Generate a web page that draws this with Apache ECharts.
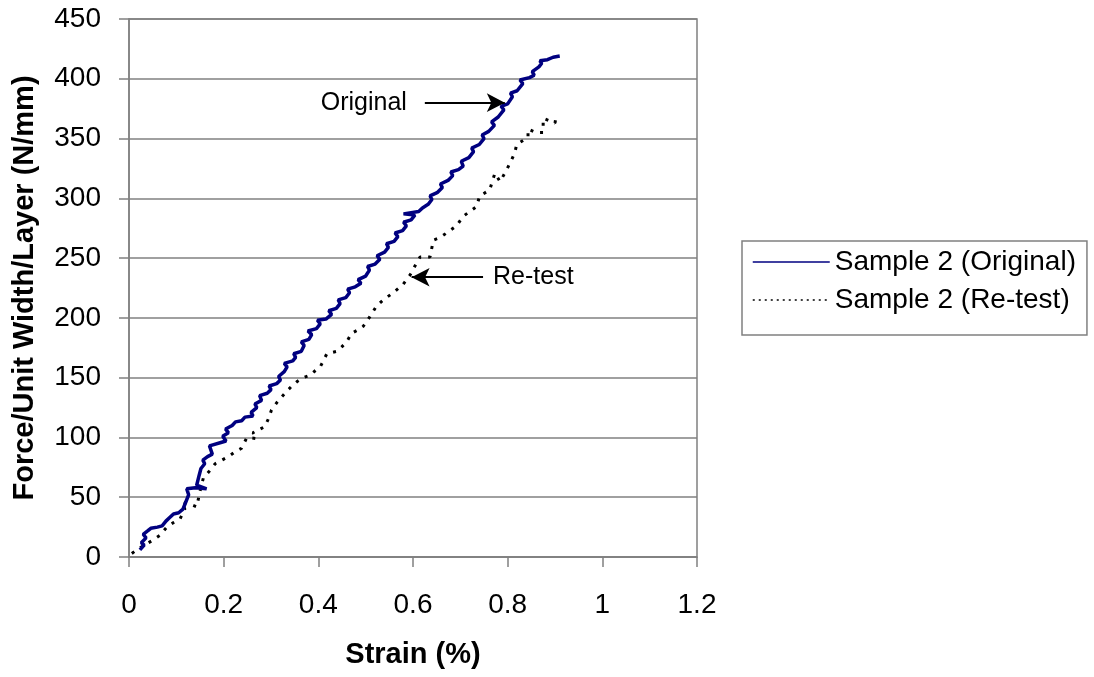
<!DOCTYPE html>
<html>
<head>
<meta charset="utf-8">
<title>Force vs Strain</title>
<script src="https://cdn.jsdelivr.net/npm/echarts@6/dist/echarts.min.js"></script>
<style>
  html, body { margin: 0; padding: 0; background: #fff; }
  #chart { width: 1094px; height: 677px; }
</style>
</head>
<body>
<div id="chart"></div>
<script>
// Axis ticks
const xTicks = [0, 0.2, 0.4, 0.6, 0.8, 1, 1.2];
const yTicks = [0, 50, 100, 150, 200, 250, 300, 350, 400, 450];

// Series names
const seriesNames = ['Sample 2 (Original)', 'Sample 2 (Re-test)'];

// Sample 2, original test: [strain %, force per unit width per layer N/mm]
const originalData = [
  [0.023,6],[0.032,10],[0.026,12],[0.036,16],[0.030,19],[0.040,22],[0.046,24],[0.060,25],
  [0.070,26],[0.078,30],[0.086,33],[0.094,36],[0.105,37],[0.114,40],[0.120,46],[0.126,52],
  [0.122,57],[0.140,58],[0.164,57],[0.143,60],[0.148,68],[0.152,74],[0.160,78],[0.156,81],
  [0.166,84],[0.176,86],[0.170,93],[0.196,96],[0.205,97],[0.198,101],[0.210,104],[0.204,107],
  [0.218,110],[0.225,113],[0.238,114],[0.245,117],[0.262,118],[0.258,121],[0.270,125],[0.266,128],
  [0.280,131],[0.276,135],[0.292,137],[0.300,140],[0.296,143],[0.312,145],[0.320,148],[0.316,151],
  [0.328,155],[0.334,159],[0.328,162],[0.346,164],[0.352,167],[0.348,170],[0.364,172],[0.370,177],
  [0.364,180],[0.380,182],[0.386,186],[0.378,189],[0.396,191],[0.404,195],[0.398,198],[0.416,199],
  [0.428,203],[0.422,206],[0.438,208],[0.446,212],[0.442,215],[0.458,217],[0.466,221],[0.462,224],
  [0.478,226],[0.490,229],[0.484,232],[0.500,235],[0.508,240],[0.504,243],[0.520,245],[0.530,249],
  [0.524,252],[0.540,255],[0.548,259],[0.544,262],[0.560,264],[0.568,268],[0.562,271],[0.578,273],
  [0.586,277],[0.580,280],[0.596,282],[0.604,286],[0.580,287],[0.612,289],[0.620,292],[0.632,295],
  [0.640,299],[0.636,302],[0.652,305],[0.662,309],[0.658,312],[0.674,315],[0.684,319],[0.680,322],
  [0.696,324],[0.706,327],[0.702,331],[0.718,334],[0.728,339],[0.724,342],[0.740,345],[0.750,350],
  [0.746,353],[0.760,356],[0.772,361],[0.766,364],[0.780,368],[0.792,374],[0.786,377],[0.800,379],
  [0.810,385],[0.806,388],[0.820,390],[0.832,396],[0.826,399],[0.846,401],[0.856,403],[0.852,406],
  [0.866,410],[0.872,413],[0.868,415],[0.884,416],[0.896,418],[0.910,419]
];

// Sample 2, re-test
const retestData = [
  [0.006,3],[0.020,7],[0.037,11],[0.050,14],[0.065,18],[0.080,25],[0.095,29],[0.108,32],
  [0.118,40],[0.112,46],[0.130,44],[0.143,42],[0.150,55],[0.157,66],[0.170,72],[0.182,78],
  [0.196,81],[0.210,84],[0.224,88],[0.238,91],[0.249,100],[0.270,99],[0.262,104],[0.287,109],
  [0.295,116],[0.301,123],[0.312,129],[0.323,134],[0.334,139],[0.344,143],[0.356,147],[0.368,150],
  [0.382,152],[0.394,156],[0.404,159],[0.418,170],[0.439,172],[0.450,176],[0.460,180],[0.470,187],
  [0.484,190],[0.495,193],[0.509,201],[0.523,210],[0.537,215],[0.558,221],[0.579,228],[0.594,236],
  [0.605,244],[0.615,251],[0.636,251],[0.643,265],[0.656,267],[0.671,271],[0.692,277],[0.706,285],
  [0.720,289],[0.734,293],[0.741,302],[0.762,307],[0.773,321],[0.784,314],[0.798,324],[0.808,332],
  [0.815,338],[0.819,345],[0.843,351],[0.843,358],[0.860,355],[0.875,355],[0.875,367],[0.900,363],
  [0.903,370]
];

// Callout arrows: [label, tail point, head point] in data coordinates
const calloutOriginal = ['Original', [0.625, 380], [0.794, 380]];
const calloutRetest = ['Re-test', [0.748, 234], [0.597, 234]];

const FONT = '"Liberation Sans", Arial, Helvetica, sans-serif';
const GRID_GRAY = '#808080';

function callout(c) {
  return [
    { coord: c[1], label: { formatter: c[0] } },
    { coord: c[2] }
  ];
}

const chart = echarts.init(document.getElementById('chart'), null, { renderer: 'canvas' });

chart.setOption({
  animation: false,
  backgroundColor: '#fff',
  textStyle: { fontFamily: FONT },
  grid: {
    left: 129, right: 397, top: 19, bottom: 120,
    containLabel: false,
    outerBoundsMode: 'none',
    show: true, borderColor: GRID_GRAY, borderWidth: 1.5, backgroundColor: 'transparent'
  },
  legend: {
    orient: 'vertical',
    left: 742, top: 241,
    padding: [7, 11, 21, 10],
    itemWidth: 77, itemHeight: 28, itemGap: 10,
    borderColor: GRID_GRAY, borderWidth: 1.5,
    itemStyle: { opacity: 0 },
    textStyle: { fontSize: 28, color: '#000', fontFamily: FONT },
    data: [
      { name: seriesNames[0], itemStyle: { opacity: 0 }, lineStyle: { width: 1.5, color: '#000080' } },
      { name: seriesNames[1], itemStyle: { opacity: 0 }, lineStyle: { width: 1.5, color: '#000', type: [2, 4] } }
    ]
  },
  xAxis: {
    type: 'value',
    min: xTicks[0], max: xTicks[xTicks.length - 1], interval: 0.2,
    name: 'Strain (%)', nameLocation: 'middle', nameGap: 83,
    nameMoveOverlap: false,
    nameTextStyle: { fontSize: 29, fontWeight: 'bold', color: '#000', fontFamily: FONT },
    axisLine: { lineStyle: { color: GRID_GRAY, width: 1.5 } },
    axisTick: { length: 10, lineStyle: { color: GRID_GRAY, width: 1.5 } },
    axisLabel: { fontSize: 28, color: '#000', margin: 34, fontFamily: FONT },
    splitLine: { show: false }
  },
  yAxis: {
    type: 'value',
    min: yTicks[0], max: yTicks[yTicks.length - 1], interval: 50,
    name: 'Force/Unit Width/Layer (N/mm)', nameLocation: 'middle', nameGap: 90,
    nameMoveOverlap: false,
    nameTextStyle: { fontSize: 29, fontWeight: 'bold', color: '#000', fontFamily: FONT },
    axisLine: { show: true, lineStyle: { color: GRID_GRAY, width: 1.5 } },
    axisTick: { show: true, length: 10, lineStyle: { color: GRID_GRAY, width: 1.5 } },
    axisLabel: { fontSize: 28, color: '#000', margin: 28, fontFamily: FONT },
    splitLine: { show: true, lineStyle: { color: GRID_GRAY, width: 1.5 } }
  },
  series: [
    {
      name: seriesNames[0],
      type: 'line',
      data: originalData,
      symbol: 'none',
      lineStyle: { color: '#000080', width: 3.5 },
      itemStyle: { color: '#000080' },
      z: 3,
      markLine: {
        silent: true,
        symbol: ['none', 'arrow'],
        symbolSize: [14, 18],
        lineStyle: { color: '#000', width: 2, type: 'solid' },
        label: {
          show: true, position: 'start', distance: 18,
          fontSize: 25, color: '#000', fontFamily: FONT
        },
        data: [callout(calloutOriginal)]
      }
    },
    {
      name: seriesNames[1],
      type: 'line',
      data: retestData,
      symbol: 'none',
      lineStyle: { color: '#000', width: 3, type: [3, 7] },
      itemStyle: { color: '#000' },
      z: 2,
      markLine: {
        silent: true,
        symbol: ['none', 'arrow'],
        symbolSize: [14, 18],
        lineStyle: { color: '#000', width: 2, type: 'solid' },
        label: {
          show: true, position: 'start', distance: 10,
          fontSize: 25, color: '#000', fontFamily: FONT
        },
        data: [callout(calloutRetest)]
      }
    }
  ]
});
</script>
</body>
</html>
